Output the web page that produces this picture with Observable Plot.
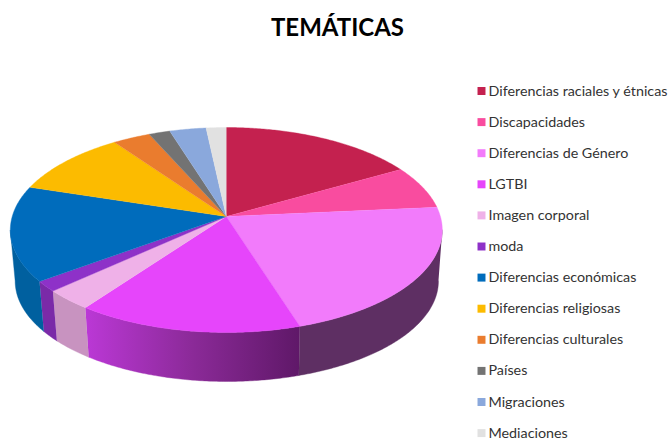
<!DOCTYPE html>
<html>
<head>
<meta charset="utf-8">
<script src="https://cdn.jsdelivr.net/npm/d3@7"></script>
<script src="https://cdn.jsdelivr.net/npm/@observablehq/plot@0.6"></script>
<style>
  html, body { margin: 0; padding: 0; background: #fff; }
  svg { display: block; }
</style>
</head>
<body>
<div id="chart"></div>
<script>
const chartTitle = "TEMÁTICAS";
const categories = ["Diferencias raciales y étnicas", "Discapacidades", "Diferencias de Género", "LGTBI", "Imagen corporal", "moda", "Diferencias económicas", "Diferencias religiosas", "Diferencias culturales", "Países", "Migraciones", "Mediaciones"];
const values = [16.7, 6.8, 21.6, 14.85, 3.2, 1.65, 15.0, 10.3, 3.2, 1.8, 3.1, 1.7];
const topColors = ["#c4214f", "#f94c9f", "#f27bfb", "#e645fb", "#efb1e8", "#8e31c8", "#006cbc", "#fcbb00", "#ea7c2e", "#737373", "#8aa8dc", "#e1e1e1"];
const sideColors = ["#7a1532", "#9c2f63", "#5e2f63", "url(#lgtbiSide)", "#c893c0", "#7a2aa8", "#00609f", "#a07700", "#94501d", "#494949", "#58698a", "#8e8e8e"];

// Perspective view of the disc: u, v on the unit circle
const tilt = 0.1317;
const topDisc = {cx: 225.8, cy: 216, a: 214.1, b: 100.7};
const baseDisc = {cx: 226.3, cy: 267.3, a: 209.8, b: 98.7};
const project = (disc, t) => {
  const u = Math.sin(t), v = Math.cos(t), w = 1 + tilt * v;
  return {x: disc.cx + disc.a * u / w, y: disc.cy - disc.b * v / w};
};
// The wall shows only between the two points where the rim turns back
const frontStart = Math.acos(-tilt);
const frontEnd = 2 * Math.PI - frontStart;
const rimAngles = (a0, a1) => {
  const n = Math.max(2, Math.ceil((a1 - a0) / 0.01));
  return d3.range(n + 1).map(k => a0 + (a1 - a0) * k / n);
};

const total = d3.sum(values);
const ends = Array.from(d3.cumsum(values));
const slices = categories.map((name, i) => {
  const a0 = ((ends[i] - values[i]) / total) * 2 * Math.PI;
  const a1 = (ends[i] / total) * 2 * Math.PI;
  const w0 = Math.max(a0, frontStart), w1 = Math.min(a1, frontEnd);
  const wallAngles = w1 > w0 ? rimAngles(w0, w1) : [];
  return {
    name, top: topColors[i], side: sideColors[i],
    face: [{x: topDisc.cx, y: topDisc.cy}, ...rimAngles(a0, a1).map(t => project(topDisc, t))],
    wall: [...wallAngles.map(t => project(topDisc, t)), ...wallAngles.slice().reverse().map(t => project(baseDisc, t))]
  };
});

const legendRows = categories.map((name, i) => ({name, color: topColors[i], y: 90.5 + i * 31.1}));

const gradient = () => {
  const defs = d3.create("svg:defs");
  const g = defs.append("linearGradient").attr("id", "lgtbiSide");
  g.append("stop").attr("offset", "0%").attr("stop-color", "#bb38d6");
  g.append("stop").attr("offset", "50%").attr("stop-color", "#8b2a98");
  g.append("stop").attr("offset", "100%").attr("stop-color", "#5f1868");
  return defs.node();
};

const font = "Lato, 'Open Sans', sans-serif";
const plot = Plot.plot({
  width: 670,
  height: 440,
  margin: 0,
  x: {domain: [0, 670], range: [0, 670], axis: null},
  y: {domain: [0, 440], range: [0, 440], axis: null},
  style: {background: "#fff", fontFamily: font},
  marks: [
    gradient,
    ...slices.filter(s => s.wall.length).map(s => Plot.line(s.wall, {x: "x", y: "y", fill: s.side, stroke: s.side, strokeWidth: 0.4})),
    ...slices.map(s => Plot.line(s.face, {x: "x", y: "y", fill: s.top, stroke: s.top, strokeWidth: 0.4})),
    Plot.text([chartTitle], {x: () => 337, y: () => 28, text: d => d, fontSize: 24, fontWeight: 700, fill: "#000", fontFamily: font}),
    Plot.dot(legendRows, {x: () => 481, y: "y", symbol: "square", r: 4.5, fill: "color", stroke: null}),
    Plot.text(legendRows, {x: () => 488, y: "y", text: "name", textAnchor: "start", fontSize: 14.3, fill: "#333", fontFamily: font})
  ]
});
document.getElementById("chart").append(plot);
</script>
</body>
</html>
